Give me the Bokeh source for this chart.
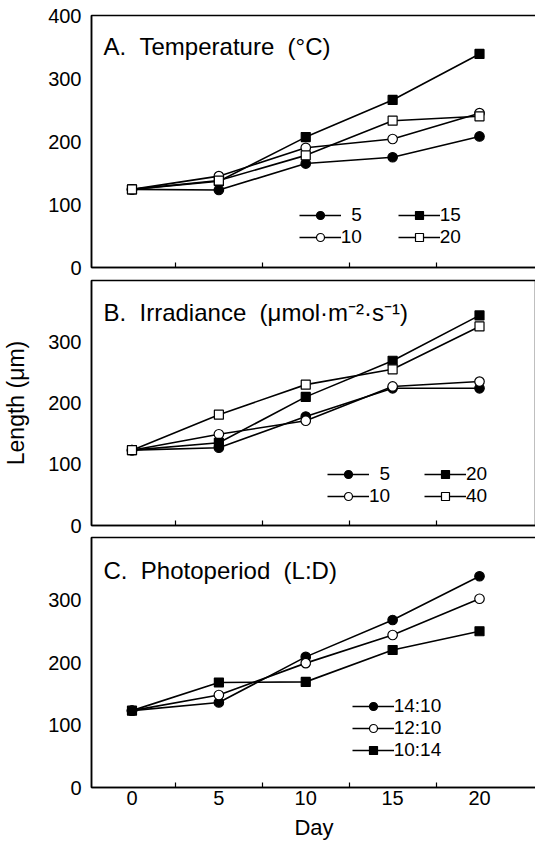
from bokeh.plotting import figure
from bokeh.models import FixedTicker, Legend, LegendItem, Label, Range1d
from bokeh.layouts import column
from bokeh.embed import file_html
from bokeh.resources import INLINE

FONT = "Liberation Sans"

# ---- data ----
days = [0, 5, 10, 15, 20]
day_ticks = [0, 5, 10, 15, 20]
day_minor_ticks = [2.5, 7.5, 12.5, 17.5]
length_ticks_a = [0, 100, 200, 300, 400]
length_ticks_bc = [0, 100, 200, 300]

temp_labels = ["5", "10", "15", "20"]
temp_5 = [124, 123, 165, 175, 208]
temp_10 = [124, 145, 190, 204, 245]
temp_15 = [124, 137, 207, 266, 339]
temp_20 = [124, 138, 178, 233, 240]

irr_labels = ["5", "10", "20", "40"]
irr_5 = [123, 127, 178, 224, 224]
irr_10 = [123, 149, 171, 227, 235]
irr_20 = [123, 135, 210, 269, 343]
irr_40 = [123, 181, 230, 255, 325]

photo_labels = ["14:10", "12:10", "10:14"]
photo_14_10 = [123, 136, 209, 268, 338]
photo_12_10 = [123, 148, 199, 244, 302]
photo_10_14 = [123, 168, 169, 220, 250]

SP = "\u00a0\u00a0"
titles = ["A." + SP + "Temperature" + SP + "(°C)",
          "B." + SP + "Irradiance" + SP + "(μmol·m⁻²·s⁻¹)",
          "C." + SP + "Photoperiod" + SP + "(L:D)"]

FIG = "\u2007"  # figure space, to right-align single digits in legends


def make_fig(frame_h, top, bottom, yticks, show_x_labels):
    p = figure(frame_width=445, frame_height=frame_h, min_border_left=90, min_border_right=0,
               min_border_top=top, min_border_bottom=bottom,
               x_range=Range1d(-2.33, 23.28), y_range=Range1d(0, 400),
               output_backend="svg", toolbar_location=None)
    p.grid.visible = False
    p.outline_line_color = "black"
    p.outline_line_width = 1.5
    p.outline_line_alpha = 1
    p.background_fill_color = "white"
    p.border_fill_color = "white"
    xa = p.xaxis[0]
    xa.ticker = FixedTicker(ticks=day_ticks if show_x_labels else [], minor_ticks=day_minor_ticks)
    xa.axis_line_color = "black"
    xa.axis_line_width = 1.5
    xa.major_tick_in = 0
    xa.major_tick_out = 0
    xa.minor_tick_in = 5
    xa.minor_tick_out = 0
    xa.minor_tick_line_color = "black"
    xa.minor_tick_line_width = 1.2
    xa.major_label_text_font = FONT
    xa.major_label_text_font_size = "20px"
    xa.major_label_text_color = "black"
    ya = p.yaxis[0]
    ya.ticker = FixedTicker(ticks=yticks, minor_ticks=[])
    ya.axis_line_color = "black"
    ya.axis_line_width = 1.5
    ya.major_tick_in = 0
    ya.major_tick_out = 0
    ya.major_label_standoff = 10
    ya.major_label_text_font = FONT
    ya.major_label_text_font_size = "20px"
    ya.major_label_text_color = "black"
    return p


def add_series(p, ys, marker, filled):
    ln = p.line(days, ys, line_color="black", line_width=1.6)
    sc = p.scatter(days, ys, marker=marker, size=9.5 if marker == "circle" else 9,
                   line_color="black", line_width=1.2,
                   fill_color="black" if filled else "white")
    return [ln, sc]


def add_legend(p, items, x, y, row_h=20):
    lg = Legend(items=items, location=(x, y), orientation="vertical",
                glyph_width=42, glyph_height=row_h, label_height=row_h, label_standoff=0,
                spacing=0, padding=0, margin=0, border_line_alpha=0, background_fill_alpha=0,
                label_text_font=FONT, label_text_font_size="19px", label_text_color="black")
    p.add_layout(lg)


def add_title(p, text, y):
    p.add_layout(Label(x=12, y=y, x_units="screen", y_units="screen", text=text,
                       text_font=FONT, text_font_size="24px", text_color="black",
                       text_baseline="alphabetic"))


# ---- Panel A ----
pA = make_fig(252, 15, 12, length_ticks_a, False)
rA = [add_series(pA, temp_5, "circle", True),
      add_series(pA, temp_10, "circle", False),
      add_series(pA, temp_15, "square", True),
      add_series(pA, temp_20, "square", False)]
labA = [FIG + temp_labels[0], temp_labels[1], temp_labels[2], temp_labels[3]]
add_legend(pA, [LegendItem(label=labA[0], renderers=rA[0]), LegendItem(label=labA[1], renderers=rA[1])], 238, 19)
add_legend(pA, [LegendItem(label=labA[2], renderers=rA[2]), LegendItem(label=labA[3], renderers=rA[3])], 337, 19)
add_title(pA, titles[0], 252 - 31)

# ---- Panel B ----
pB = make_fig(245, 1, 11, length_ticks_bc, False)
rB = [add_series(pB, irr_5, "circle", True),
      add_series(pB, irr_10, "circle", False),
      add_series(pB, irr_20, "square", True),
      add_series(pB, irr_40, "square", False)]
labB = [FIG + irr_labels[0], irr_labels[1], irr_labels[2], irr_labels[3]]
add_legend(pB, [LegendItem(label=labB[0], renderers=rB[0]), LegendItem(label=labB[1], renderers=rB[1])], 236, 18)
add_legend(pB, [LegendItem(label=labB[2], renderers=rB[2]), LegendItem(label=labB[3], renderers=rB[3])], 333, 18)
add_title(pB, titles[1], 245 - 32)
pB.yaxis[0].axis_label = "Length (μm)"
pB.yaxis[0].axis_label_text_font = FONT
pB.yaxis[0].axis_label_text_font_size = "23px"
pB.yaxis[0].axis_label_text_font_style = "normal"
pB.yaxis[0].axis_label_text_color = "black"
pB.yaxis[0].axis_label_standoff = 16

# ---- Panel C ----
pC = make_fig(250, 1, 60, length_ticks_bc, True)
pC.xaxis[0].major_label_standoff = 3
pC.xaxis[0].axis_label = "Day"
pC.xaxis[0].axis_label_text_font = FONT
pC.xaxis[0].axis_label_text_font_size = "22px"
pC.xaxis[0].axis_label_text_font_style = "normal"
pC.xaxis[0].axis_label_text_color = "black"
pC.xaxis[0].axis_label_standoff = 7
rC = [add_series(pC, photo_14_10, "circle", True),
      add_series(pC, photo_12_10, "circle", False),
      add_series(pC, photo_10_14, "square", True)]
add_legend(pC, [LegendItem(label=photo_labels[i], renderers=rC[i]) for i in range(3)], 291, 26, row_h=20)
add_title(pC, titles[2], 250 - 33)

layout = column(pA, pB, pC, spacing=0)

with open("out.html", "w") as f:
    f.write(file_html(layout, INLINE))
